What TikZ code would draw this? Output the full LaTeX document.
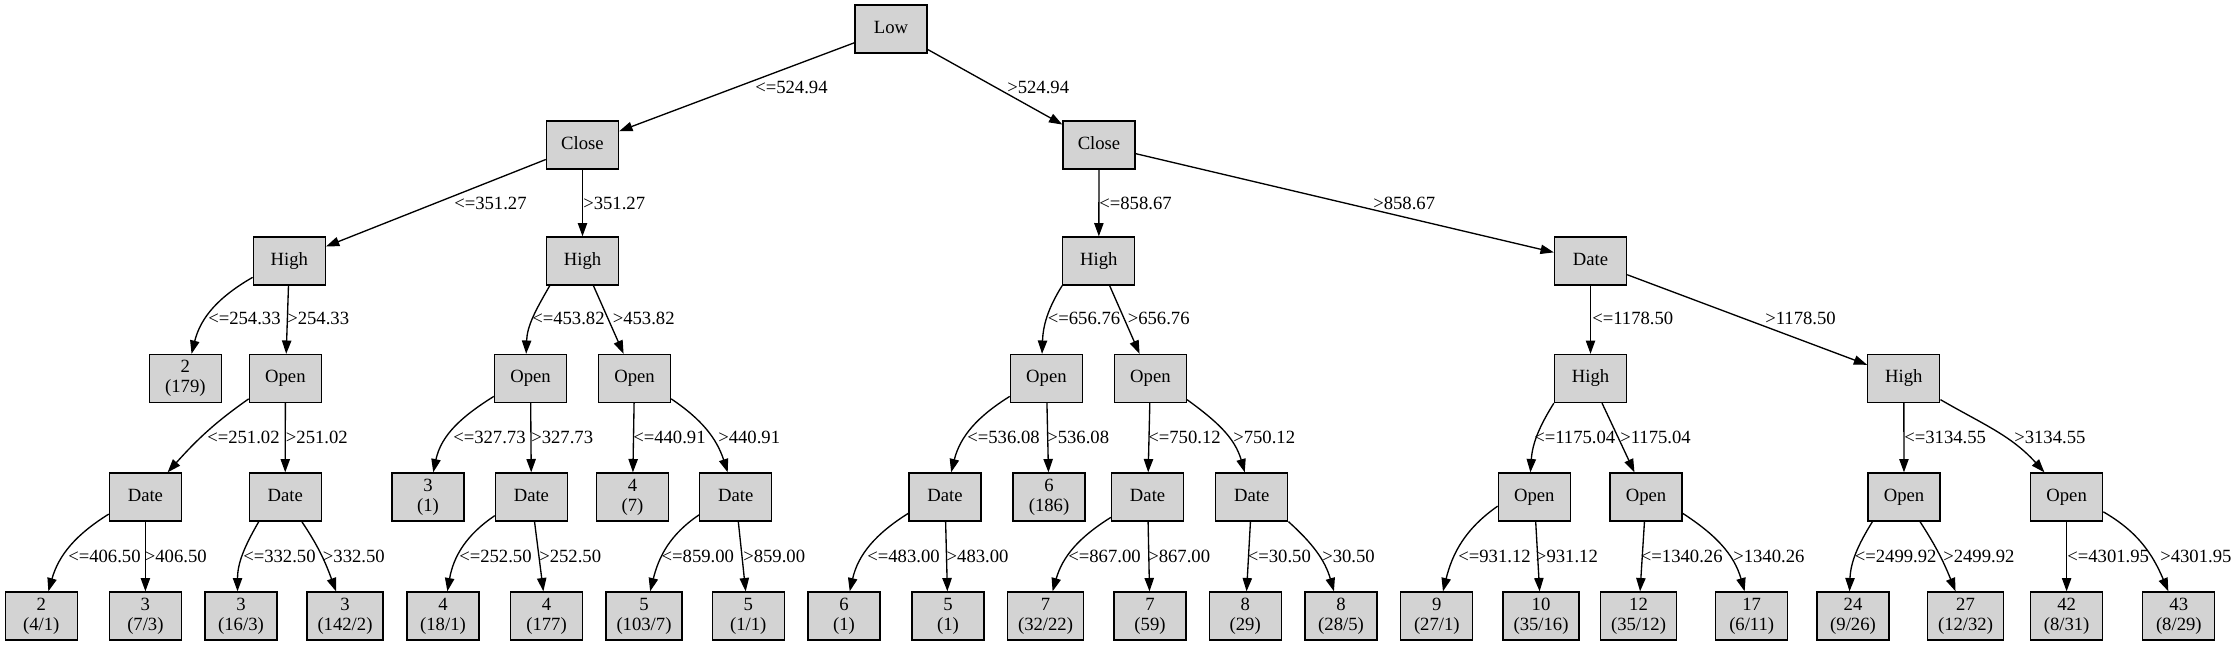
\documentclass[tikz,border=0pt]{standalone}
\usepackage{fontspec}
\setmainfont{Liberation Serif}
\usepackage{tikz}
\usetikzlibrary{arrows.meta}
\definecolor{nodegray}{RGB}{211,211,211}

\begin{document}
\begin{tikzpicture}[x=0.75pt,y=0.75pt,
    attrbox/.style={draw=black,fill=nodegray,line width=1pt,minimum width=54pt,minimum height=36pt,inner xsep=8pt,font=\fontsize{14}{15}\selectfont,text height=9.8pt,text depth=3.5pt},
    leafbox/.style={draw=black,fill=nodegray,line width=1pt,minimum width=54pt,minimum height=36pt,inner xsep=8pt,align=center,font=\fontsize{14}{15}\selectfont},
    branch/.style={line width=1pt,-{Triangle[length=10pt,width=7pt]}},
    cond/.style={anchor=west,inner sep=0pt,font=\fontsize{14}{15}\selectfont}]
      \fill [white] (0,0) rectangle (2237,-647);
      \node [attrbox] (low) at (891,-29) {Low};
      \node [attrbox] (closeA) at (582.5,-145) {Close};
      \node [attrbox] (closeB) at (1099,-145) {Close};
      \node [attrbox] (highA) at (289.3,-261) {High};
      \node [attrbox] (highB) at (582.5,-261) {High};
      \node [attrbox] (highC) at (1098.8,-261) {High};
      \node [attrbox] (dateA) at (1590.5,-261) {Date};
      \node [leafbox] (leaf1) at (185.4,-378.5) {2\\(179)};
      \node [attrbox] (openA) at (285.4,-378.5) {Open};
      \node [attrbox] (openB) at (530.5,-378.5) {Open};
      \node [attrbox] (openC) at (634.5,-378.5) {Open};
      \node [attrbox] (openD) at (1046.4,-378.5) {Open};
      \node [attrbox] (openE) at (1150.4,-378.5) {Open};
      \node [attrbox] (highD) at (1590.5,-378.5) {High};
      \node [attrbox] (highE) at (1903.8,-378.5) {High};
      \node [attrbox] (dateB) at (145.4,-497) {Date};
      \node [attrbox] (dateC) at (285.2,-497) {Date};
      \node [leafbox] (leaf2) at (428,-497) {3\\(1)};
      \node [attrbox] (dateD) at (531.4,-497) {Date};
      \node [leafbox] (leaf3) at (632.5,-497) {4\\(7)};
      \node [attrbox] (dateE) at (735.7,-497) {Date};
      \node [attrbox] (dateF) at (945,-497) {Date};
      \node [leafbox] (leaf4) at (1049,-497) {6\\(186)};
      \node [attrbox] (dateG) at (1147.6,-497) {Date};
      \node [attrbox] (dateH) at (1251.8,-497) {Date};
      \node [attrbox] (openF) at (1534.3,-497) {Open};
      \node [attrbox] (openG) at (1646,-497) {Open};
      \node [attrbox] (openH) at (1904,-497) {Open};
      \node [attrbox] (openI) at (2066.6,-497) {Open};
      \node [leafbox] (leaf5) at (41.3,-616) {2\\(4/1)};
      \node [leafbox] (leaf6) at (145.4,-616) {3\\(7/3)};
      \node [leafbox] (leaf7) at (241,-616) {3\\(16/3)};
      \node [leafbox] (leaf8) at (345,-616) {3\\(142/2)};
      \node [leafbox] (leaf9) at (443,-616) {4\\(18/1)};
      \node [leafbox] (leaf10) at (546.5,-616) {4\\(177)};
      \node [leafbox] (leaf11) at (644,-616) {5\\(103/7)};
      \node [leafbox] (leaf12) at (748.3,-616) {5\\(1/1)};
      \node [leafbox] (leaf13) at (844,-616) {6\\(1)};
      \node [leafbox] (leaf14) at (948,-616) {5\\(1)};
      \node [leafbox] (leaf15) at (1045.5,-616) {7\\(32/22)};
      \node [leafbox] (leaf16) at (1150,-616) {7\\(59)};
      \node [leafbox] (leaf17) at (1245.2,-616) {8\\(29)};
      \node [leafbox] (leaf18) at (1341,-616) {8\\(28/5)};
      \node [leafbox] (leaf19) at (1436.8,-616) {9\\(27/1)};
      \node [leafbox] (leaf20) at (1541,-616) {10\\(35/16)};
      \node [leafbox] (leaf21) at (1638.5,-616) {12\\(35/12)};
      \node [leafbox] (leaf22) at (1751.7,-616) {17\\(6/11)};
      \node [leafbox] (leaf23) at (1853,-616) {24\\(9/26)};
      \node [leafbox] (leaf24) at (1965.5,-616) {27\\(12/32)};
      \node [leafbox] (leaf25) at (2066.6,-616) {42\\(8/31)};
      \node [leafbox] (leaf26) at (2178.8,-616) {43\\(8/29)};
      \draw [branch] (low) -- (closeA);
      \draw [branch] (low) -- (closeB);
      \draw [branch] (closeA) -- (highA);
      \draw [branch] (closeA) -- (highB);
      \draw [branch] (closeB) -- (highC);
      \draw [branch] (closeB) -- (dateA);
      \draw [branch] (highA.204) to [out=210,in=76] (leaf1);
      \draw [branch] (highA) -- (openA);
      \draw [branch] (highB.217) to [out=240,in=88] (openB.100);
      \draw [branch] (highB) -- (openC);
      \draw [branch] (highC.south west) to [out=238,in=88] (openD.100);
      \draw [branch] (highC) -- (openE);
      \draw [branch] (dateA) -- (highD);
      \draw [branch] (dateA) -- (highE);
      \draw [branch] (openA.209) to [out=215,in=48] (dateB);
      \draw [branch] (openA) -- (dateC);
      \draw [branch] (openB.206) to [out=212,in=78] (leaf2);
      \draw [branch] (openB) -- (dateD);
      \draw [branch] (openC) -- (leaf3);
      \draw [branch] (openC.331) to [out=-34,in=108] (dateE);
      \draw [branch] (openD.206) to [out=212,in=76] (dateF);
      \draw [branch] (openD) -- (leaf4);
      \draw [branch] (openE) -- (dateG);
      \draw [branch] (openE.330) to [out=-36,in=106] (dateH);
      \draw [branch] (highD.south west) to [out=238,in=86] (openF.99);
      \draw [branch] (highD) -- (openG);
      \draw [branch] (highE) -- (openH);
      \draw [branch] (highE.330) to [out=-30,in=132] (openI);
      \draw [branch] (dateB.205) to [out=212,in=74] (leaf5);
      \draw [branch] (dateB) -- (leaf6);
      \draw [branch] (dateC.223) to [out=240,in=90] (leaf7.98);
      \draw [branch] (dateC) to [out=-56,in=110] (leaf8);
      \draw [branch] (dateD.207) to [out=214,in=80] (leaf9);
      \draw [branch] (dateD) -- (leaf10);
      \draw [branch] (dateE.206) to [out=214,in=76] (leaf11);
      \draw [branch] (dateE) -- (leaf12);
      \draw [branch] (dateF.204) to [out=212,in=77] (leaf13);
      \draw [branch] (dateF) -- (leaf14);
      \draw [branch] (dateG.209) to [out=212,in=74] (leaf15);
      \draw [branch] (dateG) -- (leaf16);
      \draw [branch] (dateH) -- (leaf17);
      \draw [branch] (dateH.south east) to [out=-42,in=106] (leaf18);
      \draw [branch] (openF.194) to [out=215,in=76] (leaf19);
      \draw [branch] (openF) -- (leaf20);
      \draw [branch] (openG) -- (leaf21);
      \draw [branch] (openG.336) to [out=-33,in=106] (leaf22);
      \draw [branch] (openH.218) to [out=238,in=88] (leaf23.98);
      \draw [branch] (openH) to [out=-57,in=112] (leaf24);
      \draw [branch] (openI) -- (leaf25);
      \draw [branch] (openI.338) to [out=-30,in=113] (leaf26);
      \node [cond] (le52494) at (755,-87.5) {<=524.94};
      \node [cond] (gt52494) at (1007,-87.5) {>524.94};
      \node [cond] (le35127) at (454,-203) {<=351.27};
      \node [cond] (gt35127) at (583,-203) {>351.27};
      \node [cond] (le85867) at (1099,-203) {<=858.67};
      \node [cond] (gt85867) at (1373,-203) {>858.67};
      \node [cond] (le25433) at (208,-318.5) {<=254.33};
      \node [cond] (gt25433) at (287,-318.5) {>254.33};
      \node [cond] (le45382) at (532,-318.5) {<=453.82};
      \node [cond] (gt45382) at (612.5,-318.5) {>453.82};
      \node [cond] (le65676) at (1047.5,-318.5) {<=656.76};
      \node [cond] (gt65676) at (1127.5,-318.5) {>656.76};
      \node [cond] (le117850) at (1592,-318.5) {<=1178.50};
      \node [cond] (gt117850) at (1765,-318.5) {>1178.50};
      \node [cond] (le25102) at (207,-437.5) {<=251.02};
      \node [cond] (gt25102) at (285.7,-437.5) {>251.02};
      \node [cond] (le32773) at (453,-437.5) {<=327.73};
      \node [cond] (gt32773) at (531,-437.5) {>327.73};
      \node [cond] (le44091) at (633,-437.5) {<=440.91};
      \node [cond] (gt44091) at (718,-437.5) {>440.91};
      \node [cond] (le53608) at (967,-437.5) {<=536.08};
      \node [cond] (gt53608) at (1047,-437.5) {>536.08};
      \node [cond] (le75012) at (1148,-437.5) {<=750.12};
      \node [cond] (gt75012) at (1233,-437.5) {>750.12};
      \node [cond] (le117504) at (1534,-437.5) {<=1175.04};
      \node [cond] (gt117504) at (1620,-437.5) {>1175.04};
      \node [cond] (le313455) at (1904,-437.5) {<=3134.55};
      \node [cond] (gt313455) at (2014,-437.5) {>3134.55};
      \node [cond] (le40650) at (68,-556.5) {<=406.50};
      \node [cond] (gt40650) at (144.6,-556.5) {>406.50};
      \node [cond] (le33250) at (243,-556.5) {<=332.50};
      \node [cond] (gt33250) at (322.7,-556.5) {>332.50};
      \node [cond] (le25250) at (459,-556.5) {<=252.50};
      \node [cond] (gt25250) at (539,-556.5) {>252.50};
      \node [cond] (le85900) at (661.4,-556.5) {<=859.00};
      \node [cond] (gt85900) at (743,-556.5) {>859.00};
      \node [cond] (le48300) at (867,-556.5) {<=483.00};
      \node [cond] (gt48300) at (946.4,-556.5) {>483.00};
      \node [cond] (le86700) at (1068,-556.5) {<=867.00};
      \node [cond] (gt86700) at (1148,-556.5) {>867.00};
      \node [cond] (le3050) at (1247.5,-556.5) {<=30.50};
      \node [cond] (gt3050) at (1322,-556.5) {>30.50};
      \node [cond] (le93112) at (1458,-556.5) {<=931.12};
      \node [cond] (gt93112) at (1535.7,-556.5) {>931.12};
      \node [cond] (le134026) at (1640.6,-556.5) {<=1340.26};
      \node [cond] (gt134026) at (1733,-556.5) {>1340.26};
      \node [cond] (le249992) at (1854.5,-556.5) {<=2499.92};
      \node [cond] (gt249992) at (1943,-556.5) {>2499.92};
      \node [cond] (le430195) at (2067,-556.5) {<=4301.95};
      \node [cond] (gt430195) at (2160,-556.5) {>4301.95};
    \end{tikzpicture}
\end{document}
